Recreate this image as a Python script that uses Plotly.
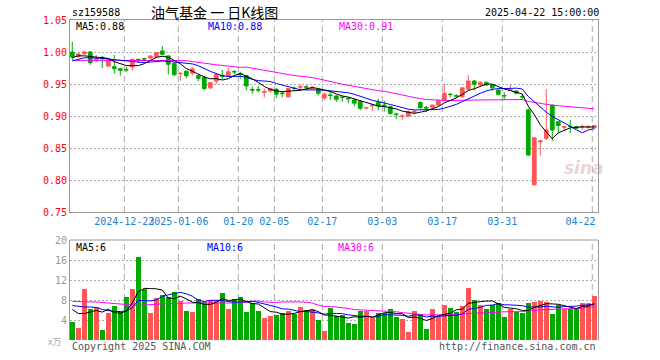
import plotly.graph_objects as go
import pandas as pd

# ---------------- data ----------------
open_ = [1.000, 0.993, 0.997, 1.000, 0.9885, 0.9917, 0.978, 0.977, 0.974, 0.9725,
         0.9766, 0.9885, 0.9895, 0.9906, 0.9927, 1.0016, 0.9938, 0.982, 0.966, 0.970,
         0.967, 0.963, 0.960, 0.944, 0.9545, 0.9635, 0.963, 0.9695, 0.9665, 0.963,
         0.9415, 0.941, 0.937, 0.939, 0.942, 0.936, 0.930, 0.9435, 0.945, 0.9455,
         0.943, 0.9417, 0.928, 0.933, 0.9313, 0.9295, 0.928, 0.925, 0.9225, 0.9125,
         0.916, 0.921, 0.917, 0.9145, 0.903, 0.8995, 0.900, 0.906, 0.921, 0.9135,
         0.9136, 0.917, 0.925, 0.934, 0.9318, 0.930, 0.942, 0.9547, 0.9485, 0.9525,
         0.9485, 0.9406, 0.932, 0.940, 0.939, 0.9305, 0.9094, 0.7925, 0.8595, 0.865,
         0.917, 0.891, 0.8825, 0.884, 0.8833, 0.8825, 0.8825, 0.8817]
high = [1.016, 0.998, 1.002, 1.0016, 0.9953, 0.9938, 0.990, 0.9953, 0.974, 0.977,
        0.990, 0.9897, 0.990, 0.995, 1.000, 1.0094, 0.995, 0.984, 0.968, 0.971,
        0.977, 0.964, 0.963, 0.953, 0.967, 0.972, 0.975, 0.972, 0.969, 0.964,
        0.946, 0.947, 0.943, 0.944, 0.943, 0.938, 0.944, 0.946, 0.9495, 0.948,
        0.946, 0.943, 0.937, 0.938, 0.933, 0.931, 0.929, 0.926, 0.923, 0.914,
        0.918, 0.927, 0.924, 0.916, 0.905, 0.9025, 0.909, 0.910, 0.923, 0.916,
        0.918, 0.925, 0.950, 0.936, 0.934, 0.945, 0.964, 0.956, 0.954, 0.954,
        0.949, 0.941, 0.937, 0.9485, 0.940, 0.934, 0.912, 0.866, 0.8625, 0.942,
        0.918, 0.891, 0.8833, 0.894, 0.885, 0.887, 0.886, 0.886]
low = [0.9875, 0.991, 0.996, 0.980, 0.9844, 0.975, 0.977, 0.966, 0.963, 0.969,
       0.971, 0.983, 0.985, 0.989, 0.991, 0.995, 0.965, 0.962, 0.955, 0.959,
       0.963, 0.954, 0.940, 0.942, 0.950, 0.957, 0.961, 0.965, 0.958, 0.940,
       0.935, 0.937, 0.929, 0.937, 0.928, 0.929, 0.929, 0.939, 0.940, 0.940,
       0.942, 0.932, 0.925, 0.925, 0.922, 0.922, 0.920, 0.915, 0.909, 0.910,
       0.908, 0.909, 0.907, 0.902, 0.895, 0.8935, 0.898, 0.903, 0.911, 0.906,
       0.912, 0.916, 0.924, 0.929, 0.928, 0.929, 0.940, 0.940, 0.947, 0.947,
       0.939, 0.932, 0.926, 0.939, 0.934, 0.926, 0.838, 0.7915, 0.838, 0.8625,
       0.861, 0.873, 0.877, 0.873, 0.880, 0.878, 0.880, 0.880]
close = [0.992, 0.997, 1.000, 0.9836, 0.9895, 0.9895, 0.9875, 0.974, 0.9714, 0.972,
         0.9883, 0.988, 0.989, 0.9938, 0.999, 0.9964, 0.9808, 0.9645, 0.9667, 0.963,
         0.9735, 0.959, 0.943, 0.952, 0.965, 0.962, 0.969, 0.969, 0.965, 0.947,
         0.9405, 0.9405, 0.938, 0.943, 0.934, 0.935, 0.943, 0.943, 0.946, 0.945,
         0.945, 0.9355, 0.934, 0.932, 0.926, 0.929, 0.927, 0.920, 0.912, 0.913,
         0.917, 0.9156, 0.916, 0.904, 0.9025, 0.900, 0.907, 0.907, 0.913, 0.9125,
         0.917, 0.924, 0.9355, 0.9335, 0.9313, 0.944, 0.9547, 0.9495, 0.9527, 0.9485,
         0.944, 0.9339, 0.9315, 0.941, 0.9355, 0.930, 0.839, 0.866, 0.861, 0.878,
         0.878, 0.885, 0.8833, 0.8835, 0.881, 0.883, 0.883, 0.8848]
volume = [3.7, 2.5, 10.3, 6.3, 6.7, 2.1, 5.4, 6.9, 5.7, 8.7,
          10.3, 16.7, 10.2, 5.5, 8.5, 9.1, 8.7, 9.6, 7.9, 5.9,
          5.7, 8.3, 7.7, 8.0, 8.0, 9.5, 6.3, 8.3, 8.7, 5.7,
          7.4, 5.9, 4.5, 4.9, 5.1, 5.4, 5.9, 5.3, 6.7, 6.0,
          6.3, 4.1, 1.9, 6.5, 4.9, 5.1, 3.5, 3.3, 5.9, 5.9,
          4.4, 5.5, 5.5, 6.3, 4.7, 4.3, 1.7, 5.9, 5.3, 2.3,
          6.3, 4.6, 7.1, 6.5, 5.7, 6.9, 10.5, 8.1, 7.1, 6.3,
          7.1, 7.5, 4.7, 6.3, 5.6, 5.5, 7.5, 7.7, 7.9, 7.7,
          5.3, 7.1, 6.3, 6.3, 6.3, 7.5, 7.5, 8.9]

# moving-average values during the warm-up period (history before the first bar)
ma5_lead = [0.991, 0.994, 0.994, 0.993]
ma10_lead = [0.986, 0.989, 0.991, 0.991, 0.991, 0.990, 0.989, 0.988, 0.987]
ma30_lead = [0.987] * 15 + [0.9865] * 5 + [0.985, 0.9835, 0.982, 0.981, 0.980, 0.979, 0.978, 0.977, 0.976]
vma5_lead = [6.1, 5.3, 5.3, 5.6]
vma10_lead = [6.9, 6.7, 6.6, 6.6, 6.5, 6.1, 5.9, 5.7, 5.7]
vma30_lead = [7.7, 7.7, 7.7, 7.7, 7.6, 7.5, 7.4, 7.2, 7.1, 7.0, 6.9, 6.9, 7.0, 7.1, 7.2,
              7.3, 7.3, 7.3, 7.4, 7.4, 7.4, 7.4, 7.4, 7.4, 7.4, 7.4, 7.4, 7.4, 7.4]

# volume MA legend values as printed in the reference header of the volume panel
vol_ma_label_vals = [6, 6, 6]

tick_idx = [9, 18, 28, 34, 42, 52, 62, 72, 87]
tick_labels = ['2024-12-23', '2025-01-06', '01-20', '02-05', '02-17', '03-03', '03-17', '03-31', '04-22']
price_ticks = [0.75, 0.80, 0.85, 0.90, 0.95, 1.00, 1.05]
vol_ticks = [4, 8, 12, 16, 20]

# ---------------- derived ----------------
n = len(close)
x = list(range(n))
cs = pd.Series(close)
vs = pd.Series(volume)


def ma(s, w, lead):
    m = s.rolling(w).mean().tolist()
    return lead + m[len(lead):]


ma5 = ma(cs, 5, ma5_lead)
ma10 = ma(cs, 10, ma10_lead)
ma30 = ma(cs, 30, ma30_lead)
vma5 = ma(vs, 5, vma5_lead)
vma10 = ma(vs, 10, vma10_lead)
vma30 = ma(vs, 30, vma30_lead)

RED = '#ff5555'
GREEN = '#00a800'
vol_colors = [RED if c >= o else GREEN for o, c in zip(open_, close)]

MONO = 'DejaVu Sans Mono'
L, R, T, B = 70, 598, 20, 340        # plot area in page pixels
W, H = 660, 360


def px(xp):
    return (xp - L) / (R - L)


def py(yp):
    return (B - yp) / (B - T)


fig = go.Figure()

fig.add_trace(go.Candlestick(
    x=x, open=open_, high=high, low=low, close=close,
    increasing=dict(line=dict(color=RED, width=1), fillcolor=RED),
    decreasing=dict(line=dict(color=GREEN, width=1), fillcolor=GREEN),
    whiskerwidth=0, xaxis='x', yaxis='y', hoverinfo='skip', showlegend=False))
for vals, col in [(ma30, '#ff00ff'), (ma10, '#0000ff'), (ma5, '#000000')]:
    fig.add_trace(go.Scatter(x=x, y=vals, mode='lines', line=dict(color=col, width=1),
                             xaxis='x', yaxis='y', hoverinfo='skip', showlegend=False))

fig.add_trace(go.Bar(x=x, y=volume, marker=dict(color=vol_colors, line=dict(width=0)),
                     width=0.85, xaxis='x2', yaxis='y2', hoverinfo='skip', showlegend=False))
for vals, col in [(vma30, '#ff00ff'), (vma10, '#0000ff'), (vma5, '#000000')]:
    fig.add_trace(go.Scatter(x=x, y=vals, mode='lines', line=dict(color=col, width=1),
                             xaxis='x2', yaxis='y2', hoverinfo='skip', showlegend=False))

xr = [-0.38, n - 1 + 0.62]
label_pos = [t - 0.33 for t in tick_idx]
label_pos[-1] = tick_idx[-1] - 2.3

GRID = '#aaaaaa'
FRAME = '#999999'

fig.update_layout(
    width=W, height=H,
    margin=dict(l=L, r=W - R, t=T, b=H - B, autoexpand=False),
    paper_bgcolor='white', plot_bgcolor='white', showlegend=False,
    bargap=0, boxgap=0.12,
    xaxis=dict(domain=[0, 1], anchor='y', range=xr, rangeslider=dict(visible=False),
               tickmode='array', tickvals=label_pos, ticktext=tick_labels, tickangle=0,
               showgrid=False, zeroline=False, ticks='',
               tickfont=dict(family=MONO, size=10, color='#1a83d4'),
               showline=True, mirror=True, linecolor=FRAME, linewidth=1),
    yaxis=dict(domain=[py(212), 1], anchor='x', range=[0.75, 1.05],
               tickmode='array', tickvals=price_ticks, tickformat='.2f',
               showgrid=True, gridcolor=GRID, griddash='2px,2px', gridwidth=1, zeroline=False,
               tickfont=dict(family=MONO, size=10, color='#ff0000'), ticks='',
               showline=True, mirror=True, linecolor=FRAME, linewidth=1),
    xaxis2=dict(domain=[0, 1], anchor='y2', range=xr, showticklabels=False,
                showgrid=False, zeroline=False, ticks='', showline=False),
    yaxis2=dict(domain=[0, py(240)], anchor='x2', range=[0, 20],
                tickmode='array', tickvals=vol_ticks,
                showgrid=True, gridcolor=GRID, griddash='2px,2px', gridwidth=1, zeroline=False,
                tickfont=dict(family=MONO, size=10, color='#999999'), ticks='',
                showline=True, mirror=True, linecolor=FRAME, linewidth=1),
)

# vertical dashed grid lines (both panels) and top edge of volume panel
shapes = []
for t in tick_idx:
    for xref, yref in [('x', 'y domain'), ('x2', 'y2 domain')]:
        shapes.append(dict(type='line', xref=xref, yref=yref, x0=t - 0.33, x1=t - 0.33, y0=0, y1=1,
                           line=dict(color=GRID, width=1, dash='6px,4px'), layer='below'))
shapes.append(dict(type='line', xref='paper', yref='y2 domain', x0=0, x1=1, y0=1, y1=1,
                   line=dict(color=FRAME, width=1)))
fig.update_layout(shapes=shapes)

ann = []


def text(xp, yp, s, color='#000', size=10, family=MONO, xanchor='left', **kw):
    ann.append(dict(x=px(xp), y=py(yp), xref='paper', yref='paper', text=s, showarrow=False,
                    xanchor=xanchor, yanchor='middle', font=dict(family=family, size=size, color=color), **kw))


text(70, 12, 'sz159588')
text(149, 12, '油气基金 一 日K线图', size=14, family='Noto Sans CJK SC')
text(601, 12, '2025-04-22 15:00:00', xanchor='right')
text(74, 27, f'MA5:{ma5[-1]:.2f}')
text(206, 27, f'MA10:{ma10[-1]:.2f}', color='#0000ff')
text(337, 27, f'MA30:{ma30[-1]:.2f}', color='#ff00ff')
text(74, 247, f'MA5:{vol_ma_label_vals[0]}')
text(205, 247, f'MA10:{vol_ma_label_vals[1]}', color='#0000ff')
text(336, 247, f'MA30:{vol_ma_label_vals[2]}', color='#ff00ff')
text(70, 346, 'Copyright 2025 SINA.COM', color='#555555')
text(598, 346, 'http://finance.sina.com.cn', color='#555555', xanchor='right')
text(63, 341, 'x万', color='#aaaaaa', size=9, family='Noto Sans CJK SC', xanchor='right')
text(584, 168, '<b><i>sina</i></b>', color='rgba(200,130,130,0.35)', size=17,
     family='DejaVu Sans', xanchor='center')
fig.update_layout(annotations=ann)

fig.write_html('out.html', config={'displayModeBar': False},
               post_script="document.body.style.margin='0';document.body.style.padding='0';")
